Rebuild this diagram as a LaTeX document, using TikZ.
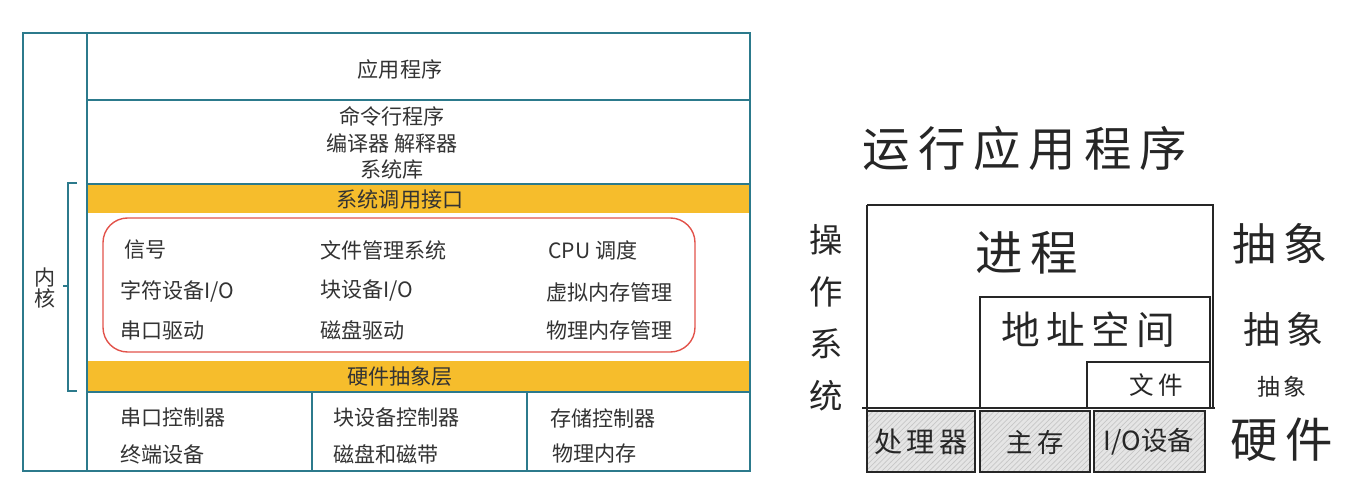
\documentclass[tikz,border=0pt]{standalone}
\usepackage{fontspec}
\setmainfont{Noto Sans CJK SC}
\usetikzlibrary{patterns}
\definecolor{frameteal}{HTML}{2C7A8C}
\definecolor{bandyellow}{HTML}{F6BD2C}
\definecolor{ovalred}{HTML}{E2534B}
\newcommand{\fs}[1]{\fontsize{#1}{#1}\selectfont}

\begin{document}
\begin{tikzpicture}[x=0.02cm,y=-0.02cm,
  frame/.style={draw=frameteal,line width=1.5pt},
  band/.style={fill=bandyellow},
  lbl/.style={font=\fs{12},text=black!80,inner sep=0pt},
  hand/.style={draw=black!85,line width=1.3pt},
  hw/.style={hand,preaction={fill=black!10},pattern=north east lines,pattern color=black!22},
  sketch/.style={text=black!85,inner sep=0pt}]
  \useasboundingbox (0,0) rectangle (1347,499);
  % left: layers of the system
  \fill[band] (87,184) rectangle (750,213);
  \fill[band] (87,361) rectangle (750,391);
  \draw[frame] (23,33) rectangle (750,471);
  \draw[frame] (87,33)--(87,471);
  \draw[frame] (87,100)--(750,100);
  \draw[frame] (87,184)--(750,184);
  \draw[frame] (87,392)--(750,392);
  \draw[frame] (312,392)--(312,471);
  \draw[frame] (527,392)--(527,471);
  \node[lbl] (app) at (400,69) {应用程序};
  \node[lbl,align=center,font=\fontsize{12}{15}\selectfont] (tools) at (392,143) {命令行程序\\编译器 解释器\\系统库};
  \node[lbl] (syscall) at (400,200) {系统调用接口};
  \node[lbl] (hal) at (400,377) {硬件抽象层};
  % kernel services
  \draw[ovalred,line width=0.8pt,rounded corners=14] (103,218) rectangle (695,352);
  \node[lbl,anchor=west] (sig) at (124,250) {信号};
  \node[lbl,anchor=west] (chario) at (120,291) {字符设备I/O};
  \node[lbl,anchor=west] (serdrv) at (120,330) {串口驱动};
  \node[lbl,anchor=west] (fs) at (320,250) {文件管理系统};
  \node[lbl,anchor=west] (blkio) at (320,291) {块设备I/O};
  \node[lbl,anchor=west] (diskdrv) at (320,330) {磁盘驱动};
  \node[lbl,anchor=west] (cpu) at (548,250) {CPU 调度};
  \node[lbl,anchor=west] (vmem) at (546,292) {虚拟内存管理};
  \node[lbl,anchor=west] (pmem) at (546,330) {物理内存管理};
  % devices
  \node[lbl,anchor=west] (serctl) at (120,417) {串口控制器};
  \node[lbl,anchor=west] (term) at (120,454) {终端设备};
  \node[lbl,anchor=west] (blkctl) at (333,417) {块设备控制器};
  \node[lbl,anchor=west] (disk) at (333,454) {磁盘和磁带};
  \node[lbl,anchor=west] (memctl) at (550,418) {存储控制器};
  \node[lbl,anchor=west] (ram) at (552,454) {物理内存};
  % kernel bracket
  \draw[frameteal,line width=0.6pt] (77,183)--(68,183)--(68,391)--(77,391);
  \draw[frameteal,line width=0.6pt] (63,286)--(68,286);
  \node[lbl,align=center,font=\fontsize{12}{12.5}\selectfont] (kernel) at (45,288) {内\\核};

  % right: sketch of the abstractions
  \node[sketch,font=\fs{27}] (run) at (1025,148) {运\,行\,应\,用\,程\,序};
  \draw[hand] (867,205)--(1213,205)--(1213,408);
  \draw[hand] (867,205)--(867,472);
  \draw[hand] (862,408)--(1215,408);
  \draw[hand] (980,408)--(980,297)--(1210,297)--(1210,408);
  \draw[hand] (1087,408)--(1087,362)--(1210,362);
  \draw[hw] (867,411) rectangle (975,472);
  \draw[hw] (980,411) rectangle (1090,472);
  \draw[hw] (1094,411) rectangle (1205,472);
  \node[sketch,font=\fs{27}] (proc) at (1027,253) {进\,程};
  \node[sketch,font=\fs{22}] (addr) at (1088,330) {地\,址\,空\,间};
  \node[sketch,font=\fs{14}] (file) at (1156,385) {文\,件};
  \node[sketch,font=\fs{16}] (cpuhw) at (921,442) {处\,理\,器};
  \node[sketch,font=\fs{15}] (mainmem) at (1035,442) {主\,存};
  \node[sketch,font=\fs{15}] (iodev) at (1149,442) {I/O设备};
  \node[sketch,font=\fs{25}] (abs1) at (1280,244) {抽\,象};
  \node[sketch,font=\fs{21}] (abs2) at (1283,329) {抽\,象};
  \node[sketch,font=\fs{13}] (abs3) at (1282,387) {抽\,象};
  \node[sketch,font=\fs{27}] (hwlbl) at (1282,440) {硬\,件};
  \node[sketch,align=center,font=\fontsize{19}{29.5}\selectfont] (os) at (826,318) {操\\作\\系\\统};
\end{tikzpicture}
\end{document}
